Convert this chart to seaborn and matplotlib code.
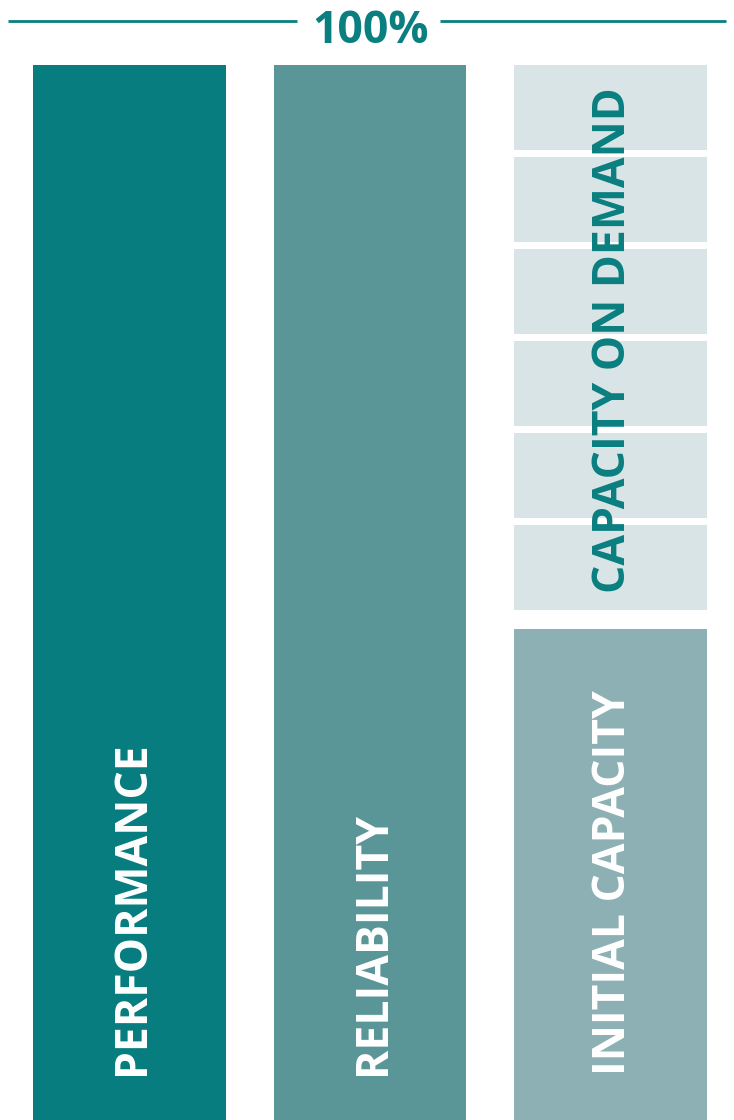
import matplotlib
matplotlib.use("Agg")
import matplotlib.pyplot as plt
import seaborn as sns
import pandas as pd

# ---- data ----
categories = ["PERFORMANCE", "RELIABILITY", "INITIAL CAPACITY"]
base_values = [100, 100, 46.5]
demand_label = "CAPACITY ON DEMAND"
demand_start = 48.3
demand_segments = [8.1, 8.1, 8.1, 8.1, 8.1, 8.1]
demand_gap = 0.62
top_label = "100%"

# ---- styles ----
bar_colors = ["#087d7f", "#5a9698", "#8db0b5"]
demand_color = "#d8e4e6"
teal = "#0a7f80"

sns.set_theme(style="white")
plt.rcParams["font.family"] = ["Open Sans", "DejaVu Sans"]

fig = plt.figure(figsize=(7.34, 11.2), dpi=100)
ax = fig.add_axes([0, 0, 1, 1])

df = pd.DataFrame({"cat": categories, "val": base_values})
sns.barplot(data=df, x="cat", y="val", hue="cat", palette=bar_colors,
            saturation=1, width=0.8, linewidth=0, legend=False, ax=ax)

# capacity-on-demand segments
bottom = demand_start
for h in demand_segments:
    ax.bar(2, h, bottom=bottom, width=0.8, color=demand_color, linewidth=0)
    bottom += h + demand_gap

ax.set_xlim(-0.5385, 2.5135)
ax.set_ylim(0, 106.16)
ax.axis("off")

# rotated labels
label_colors = ["white", "white", "white"]
for i, (lab, c) in enumerate(zip(categories, label_colors)):
    ax.text(i + 0.062, 4.27, lab, rotation=90, rotation_mode="anchor",
            ha="left", va="baseline", color=c, fontsize=32, fontweight="bold")
ax.text(2 + 0.062, demand_start + 1.65, demand_label, rotation=90,
        rotation_mode="anchor", ha="left", va="baseline", color=teal,
        fontsize=32, fontweight="bold")

# top 100% marker
ax.plot([0.0109, 0.4046], [0.98125, 0.98125], color=teal, lw=2,
        transform=ax.transAxes, solid_capstyle="butt")
ax.plot([0.5995, 0.989], [0.98125, 0.98125], color=teal, lw=2,
        transform=ax.transAxes, solid_capstyle="butt")
ax.text(0.5055, 1 - 43 / 1120, top_label, transform=ax.transAxes,
        ha="center", va="baseline", color=teal, fontsize=32, fontweight="bold")

fig.savefig("out.png", dpi=100)
